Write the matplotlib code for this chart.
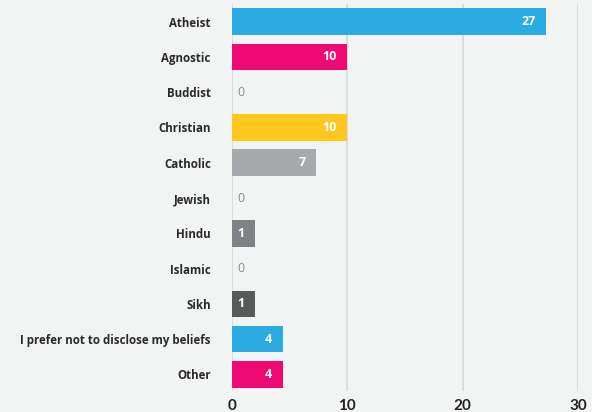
import matplotlib
matplotlib.use('Agg')
import matplotlib.pyplot as plt

# categories and counts shown on the chart
categories = ['Atheist', 'Agnostic', 'Buddist', 'Christian', 'Catholic', 'Jewish',
              'Hindu', 'Islamic', 'Sikh', 'I prefer not to disclose my beliefs', 'Other']
counts = [27, 10, 0, 10, 7, 0, 1, 0, 1, 4, 4]
# bar lengths as measured on the picture
bar_lengths = [27.2, 10, 0, 10, 7.3, 0, 2, 0, 2, 4.4, 4.4]
colors = ['#2aabe2', '#ee0a72', '#2aabe2', '#ffc81f', '#a8a9ad', '#a8a9ad',
          '#808184', '#808184', '#58595b', '#2aabe2', '#ee0a72']
xticks = [0, 10, 20, 30]

bg = '#f2f4f3'
fig = plt.figure(figsize=(5.92, 4.12), dpi=100, facecolor=bg)
ax = fig.add_axes([231.7 / 592, 1 - 391 / 412, (578.3 - 231.7) / 592, (391 - 4) / 412])
ax.set_facecolor(bg)

ypos = list(range(len(categories)))
ax.barh(ypos, bar_lengths, height=0.755, color=colors, zorder=2)

for y, v, n in zip(ypos, bar_lengths, counts):
    if n == 0:
        ax.annotate(str(n), (v, y), xytext=(4, 0), textcoords='offset points',
                    ha='left', va='center', color='#8a8a8a', fontsize=9,
                    family='Open Sans', zorder=3)
    else:
        ax.annotate(str(n), (v, y), xytext=(-7.5, 0), textcoords='offset points',
                    ha='right', va='center', color='white', fontsize=9,
                    family='Open Sans', fontweight='bold', zorder=3)

ax.set_xlim(0, 30)
ax.set_ylim(10.47, -0.5)
ax.set_xticks(xticks)
ax.set_xticklabels([str(t) for t in xticks], fontsize=11, fontweight='bold',
                   family='Lato', color='#222222')
ax.set_yticks(ypos)
ax.set_yticklabels(categories, fontsize=8.3, fontweight='bold', family='Open Sans',
                   color='#2a2a2a')
ax.tick_params(axis='y', length=0, pad=15)
ax.tick_params(axis='x', length=0, pad=6)
ax.grid(axis='x', color='#d8d8d8', lw=1.2, zorder=0)
for s in ax.spines.values():
    s.set_visible(False)

fig.savefig('out.png', dpi=100, facecolor=bg)
